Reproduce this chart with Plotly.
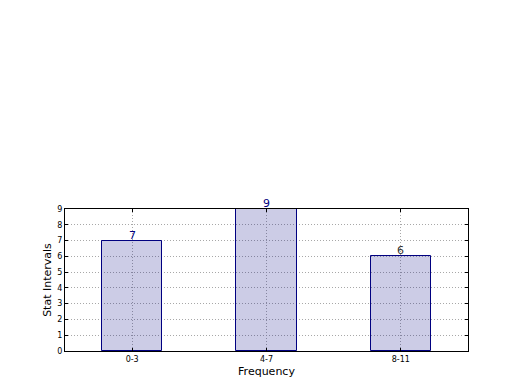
import plotly.graph_objects as go

categories = ["0-3", "4-7", "8-11"]
values = [7, 9, 6]
y_ticks = [0, 1, 2, 3, 4, 5, 6, 7, 8, 9]
label_colors = ["#000080", "#000080", "#333333"]

fig = go.Figure()
fig.add_trace(go.Bar(
    x=categories, y=values, width=0.45,
    marker=dict(color="rgba(0,0,128,0.2)", line=dict(color="#000080", width=1)),
    cliponaxis=False,
))

for cat, val, col in zip(categories, values, label_colors):
    fig.add_annotation(
        x=cat, y=val, text=str(val), showarrow=False,
        xanchor="center", yanchor="bottom", yshift=-3,
        font=dict(size=11, color=col, family="DejaVu Sans"),
    )

axis_common = dict(
    showline=True, linecolor="black", linewidth=1, mirror="ticks",
    showgrid=True, gridcolor="#a8a8a8", griddash="1px,2px", gridwidth=1,
    ticks="inside", ticklen=3, tickcolor="black",
    tickfont=dict(size=8, family="DejaVu Sans", color="black"),
    zeroline=False,
)

fig.update_layout(
    width=520, height=390,
    margin=dict(l=57, r=60, t=201, b=47),
    paper_bgcolor="white", plot_bgcolor="white",
    showlegend=False,
    bargap=0,
    font=dict(family="DejaVu Sans", color="black"),
    xaxis=dict(**axis_common, range=[-0.5, 2.5],
               title=dict(text="Frequency", font=dict(size=11), standoff=4)),
    yaxis=dict(**axis_common, range=[0, 9], tickvals=y_ticks,
               title=dict(text="Stat Intervals", font=dict(size=11), standoff=3)),
)

fig.write_html("out.html")
